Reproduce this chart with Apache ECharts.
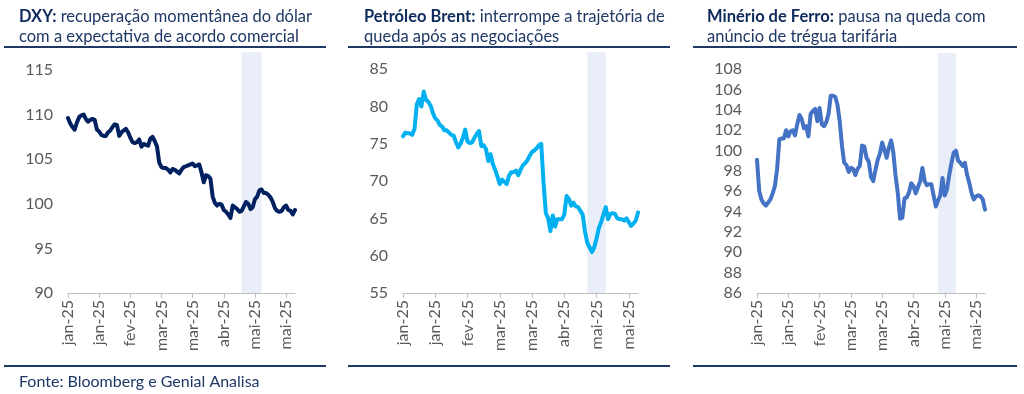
<!DOCTYPE html>
<html>
<head>
<meta charset="utf-8">
<script src="https://cdn.jsdelivr.net/npm/echarts@6/dist/echarts.min.js"></script>
<style>
html,body{margin:0;padding:0;background:#fff;}
#chart{width:1024px;height:394px;}
</style>
</head>
<body>
<div id="chart"></div>
<script>
// ---- Data ----
const tickLabels = ['jan-25','jan-25','fev-25','mar-25','mar-25','abr-25','mai-25','mai-25'];

const dxy = [109.6,109.0,108.6,108.3,109.1,109.7,109.9,110.0,109.5,109.2,
  109.4,109.5,109.4,108.3,108.1,107.7,107.6,107.6,108.0,108.2,
  108.6,108.9,108.8,107.6,108.0,108.2,108.4,108.0,107.4,106.9,
  106.8,106.9,107.2,106.4,106.7,106.6,106.5,107.3,107.5,107.0,
  106.4,104.6,104.1,104.0,104.0,103.8,103.5,103.9,103.8,103.6,
  103.4,103.8,104.1,104.2,104.3,104.4,104.5,104.2,104.3,104.4,
  103.5,102.4,103.2,103.1,102.8,100.8,100.1,99.8,100.0,99.9,
  99.3,99.1,98.8,98.4,99.8,99.6,99.4,99.1,99.2,99.7,
  100.2,100.0,99.4,99.6,100.5,100.8,101.5,101.6,101.2,101.2,
  101.0,100.7,100.2,99.5,99.2,99.1,99.2,99.6,99.8,99.3,
  99.2,98.8,99.3];

const brent = [76.0,76.5,76.4,76.4,76.2,77.0,80.3,81.0,80.0,82.0,
  80.9,80.6,80.1,79.1,78.4,78.1,77.5,77.3,76.8,76.8,
  76.5,76.2,76.1,75.2,74.5,75.0,75.8,76.9,75.3,75.1,
  75.2,75.8,76.3,76.7,74.7,74.8,74.3,72.7,73.6,72.3,
  71.5,70.6,69.6,70.2,69.9,69.6,70.7,71.2,71.2,71.4,
  70.8,71.5,72.1,72.4,72.8,73.4,73.9,74.1,74.4,74.8,
  75.0,69.8,65.7,65.0,63.3,65.4,63.9,64.9,64.9,64.9,
  65.5,68.0,67.6,66.7,67.1,66.6,66.5,66.0,65.5,63.2,
  61.7,61.1,60.5,61.1,62.3,63.7,64.5,65.5,66.5,64.9,
  65.6,65.7,65.6,65.0,64.9,64.9,64.7,65.0,64.5,64.0,
  64.3,64.7,65.8];

const iron = [99.1,96.0,95.2,94.8,94.6,94.9,95.2,95.8,96.5,98.2,
  101.1,101.2,101.2,102.0,101.4,101.9,102.0,101.5,102.6,103.5,
  103.1,102.2,102.4,101.4,103.6,103.9,104.1,102.9,104.2,102.6,
  102.4,102.8,103.6,105.4,105.4,105.3,104.5,102.9,100.5,98.8,
  98.6,97.9,98.3,98.2,97.6,98.2,98.5,100.5,100.4,99.3,
  98.9,97.4,97.0,98.1,99.1,99.7,100.8,100.1,99.3,100.3,
  101.0,99.8,97.5,95.8,93.3,93.4,95.3,95.4,95.9,96.8,
  96.5,95.8,96.4,97.0,98.3,97.0,96.6,96.7,96.7,95.6,
  94.5,95.1,95.6,97.3,95.6,96.2,97.6,98.8,99.8,100.0,
  99.0,98.8,98.5,98.8,97.6,96.8,95.8,95.2,95.5,95.6,
  95.5,95.2,94.2];

// highlighted period (category index range) per panel
const bands = [[78, 87], [80, 88], [81, 89]];

const titles = [
  ['DXY:', ' recuperação momentânea do dólar', 'com a expectativa de acordo comercial'],
  ['Petróleo Brent:', ' interrompe a trajetória de', 'queda após as negociações'],
  ['Minério de Ferro:', ' pausa na queda com', 'anúncio de trégua tarifária']
];
const sourceText = 'Fonte: Bloomberg e Genial Analisa';

// ---- Chart ----
const FONT = 'Lato';
const NAVY = '#1f3864';
const GREY = '#595959';
const chart = echarts.init(document.getElementById('chart'), null, {renderer: 'canvas'});

const panels = [
  {data: dxy, color: '#002060', min: 90, max: 117, interval: 5, grid: {left: 68, width: 227, top: 52, height: 241}, titleX: 14},
  {data: brent, color: '#00b0f0', min: 55, max: 87.3, interval: 5, grid: {left: 403, width: 235, top: 52, height: 241}, titleX: 359},
  {data: iron, color: '#4472c4', min: 86, max: 109.6, interval: 2, grid: {left: 757, width: 228, top: 53, height: 240}, titleX: 702}
];

const grids = [], xAxes = [], yAxes = [], series = [], titleComps = [];
panels.forEach((p, k) => {
  grids.push(Object.assign({}, p.grid));
  const cats = p.data.map((_, i) => i);
  xAxes.push({
    type: 'category', gridIndex: k, data: cats, boundaryGap: false,
    axisLine: {lineStyle: {color: '#bfbfbf', width: 1}},
    axisTick: {show: true, interval: 13, length: 5, lineStyle: {color: '#bfbfbf'}},
    axisLabel: {interval: 13, rotate: 90, color: GREY, fontFamily: FONT, fontSize: 16, margin: 7,
      formatter: (v, idx) => tickLabels[Math.round(idx / 14)] || ''}
  });
  yAxes.push({
    type: 'value', gridIndex: k, min: p.min, max: p.max, interval: p.interval,
    axisLine: {show: false}, axisTick: {show: false}, splitLine: {show: false},
    axisLabel: {color: GREY, fontFamily: FONT, fontSize: 16, margin: 15, showMaxLabel: false}
  });
  series.push({
    type: 'line', xAxisIndex: k, yAxisIndex: k, data: p.data, showSymbol: false,
    lineStyle: {color: p.color, width: 4, join: 'round', cap: 'round'}, itemStyle: {color: p.color},
    silent: true, animation: false,
    markArea: {silent: true, itemStyle: {color: '#e9eef8'},
      data: [[{xAxis: bands[k][0], yAxis: p.min}, {xAxis: bands[k][1], yAxis: p.max}]]},
    z: 3
  });
  titleComps.push({
    left: p.titleX, top: 2,
    text: '{b|' + titles[k][0] + '}' + titles[k][1] + '\n' + titles[k][2],
    textStyle: {color: NAVY, fontFamily: FONT, fontSize: 16.5, fontWeight: 'normal', lineHeight: 20,
      rich: {b: {fontWeight: 'bold', color: '#0e2a5c', fontFamily: FONT, fontSize: 16.5, lineHeight: 20}}}
  });
});

titleComps.push({left: 14, top: 369, text: sourceText,
  textStyle: {color: NAVY, fontFamily: FONT, fontSize: 16, fontWeight: 'normal'}});

const rules = [[4, 326], [348, 670], [693, 1017]];
const graphics = [];
rules.forEach(r => {
  graphics.push({type: 'line', shape: {x1: r[0], y1: 47, x2: r[1], y2: 47}, style: {stroke: NAVY, lineWidth: 2}, silent: true});
  graphics.push({type: 'line', shape: {x1: r[0], y1: 366, x2: r[1], y2: 366}, style: {stroke: NAVY, lineWidth: 2}, silent: true});
});

chart.setOption({
  animation: false,
  backgroundColor: '#ffffff',
  title: titleComps,
  grid: grids, xAxis: xAxes, yAxis: yAxes, series: series,
  graphic: graphics
});
</script>
</body>
</html>
